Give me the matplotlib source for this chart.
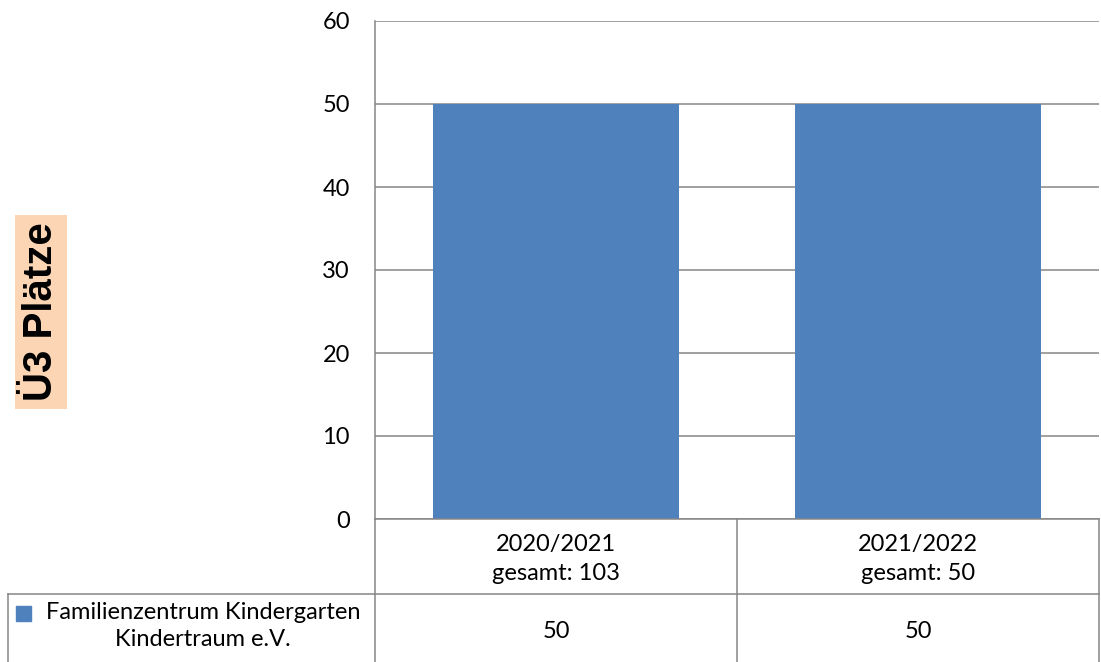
import matplotlib.pyplot as plt
from matplotlib.lines import Line2D
from matplotlib.patches import Rectangle

# ── Data ──────────────────────────────────────────────
years = ["2020/2021", "2021/2022"]
totals = [103, 50]
series_name = "Familienzentrum Kindergarten\nKindertraum e.V."
values = [50, 50]
yticks = [0, 10, 20, 30, 40, 50, 60]

BAR = "#4F81BD"
GRID = "#868686"
W, H = 1101, 662
FONT = "Lato"
FS = 17

fig = plt.figure(figsize=(W/100, H/100), dpi=100)
L, R, T, B = 375, 1099, 21, 519
ax = fig.add_axes([L/W, 1-B/H, (R-L)/W, (B-T)/H])

x = range(len(years))
ax.bar(x, values, width=0.677, color=BAR, zorder=3)
ax.set_xlim(-0.5, len(years)-0.5)
ax.set_ylim(0, 60)
ax.set_yticks(yticks)
ax.set_yticklabels([str(v) for v in yticks], fontsize=FS, family=FONT)
ax.tick_params(axis="y", length=0, pad=18)
ax.set_xticks([])
ax.grid(axis="y", color=GRID, linewidth=1.1, zorder=0)
for s in ["top", "right", "bottom"]:
    ax.spines[s].set_visible(False)
ax.spines["left"].set_color(GRID)
ax.spines["left"].set_linewidth(1.1)

# y label with peach background
fig.text(41/W, 1-312/H, "Ü3 Plätze", rotation=90, ha="center", va="center",
         fontsize=29, fontweight="bold", family="Liberation Sans",
         bbox=dict(boxstyle="square,pad=0.18", facecolor="#FCD5B5", edgecolor="none"))

# ── Data table under the axis ────────────────────────
def hline(x0, x1, y):
    fig.add_artist(Line2D([x0/W, x1/W], [1-y/H, 1-y/H], color=GRID, linewidth=1.1))

def vline(xp, y0, y1):
    fig.add_artist(Line2D([xp/W, xp/W], [1-y0/H, 1-y1/H], color=GRID, linewidth=1.1))

cw = (R-L)/len(years)
hline(L, R, B)
hline(8, R, 594)
vline(L, B, H)
vline(8, 594, H)
for i in range(1, len(years)+1):
    vline(L+i*cw, B, H)

for i, (yr, tot, v) in enumerate(zip(years, totals, values)):
    cx = L + (i+0.5)*cw
    fig.text(cx/W, 1-559/H, f"{yr}\ngesamt: {tot}", ha="center", va="center",
             fontsize=FS, family=FONT, linespacing=1.5)
    fig.text(cx/W, 1-632/H, str(v), ha="center", va="center", fontsize=FS, family=FONT)

fig.add_artist(Rectangle((16/W, 1-621/H), 15/W, 15/H, color=BAR))
fig.text(203/W, 1-626/H, series_name, ha="center", va="center",
         fontsize=FS, family=FONT, linespacing=1.4)

fig.savefig("out.png", dpi=100)
